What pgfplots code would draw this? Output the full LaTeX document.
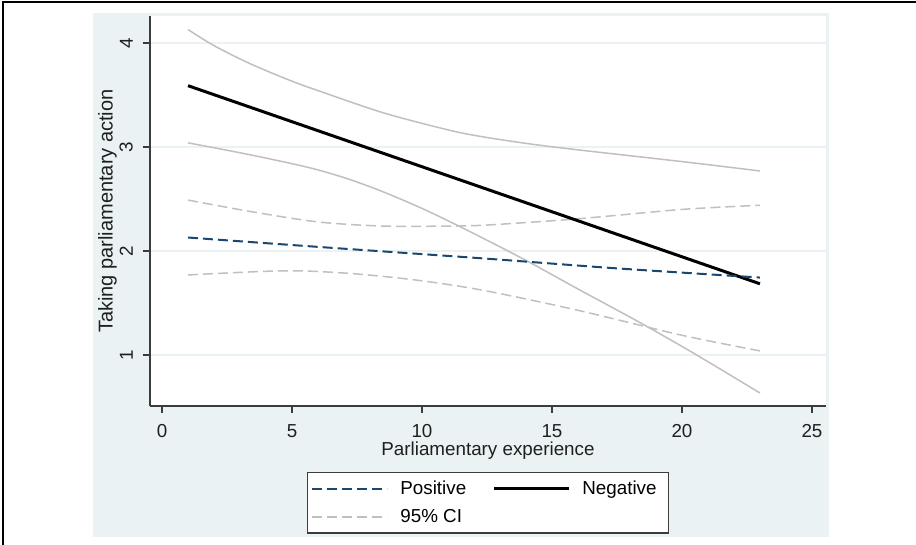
\documentclass[border=0pt]{standalone}
\usepackage{pgfplots}
\pgfplotsset{compat=1.18}
\usepackage{fontspec}
\setmainfont{Liberation Sans}
\definecolor{bgc}{RGB}{234,242,243}
\definecolor{navyc}{RGB}{26,71,111}
\definecolor{cigray}{RGB}{192,192,192}
\definecolor{axgray}{RGB}{60,60,60}
\newcommand{\ff}{\fontsize{18.8}{22}\selectfont}
\begin{document}
\ff
\begin{tikzpicture}[x=1pt,y=1pt]
\path[use as bounding box] (0,0) rectangle (916,545);
\fill[bgc] (93,8) rectangle (829,532);
\draw[black,line width=2pt] (3,0) -- (3,543) -- (916,543);
\begin{axis}[
  at={(150pt,139pt)}, anchor=south west,
  scale only axis, width=676pt, height=390pt,
  xmin=-0.4615, xmax=25.54, ymin=0.51, ymax=4.26,
  axis background/.style={fill=white},
  axis x line*=bottom, axis y line*=left,
  axis line style={-, axgray, line width=1.3pt},
  xtick={0,5,10,15,20,25}, ytick={1,2,3,4},
  tick align=outside, major tick length=7pt,
  tick style={axgray, line width=1.3pt},
  ymajorgrids, grid style={bgc, line width=1.2pt},
  /pgf/number format/assume math mode=true,
  ticklabel style={font=\ff, color=black!88, inner sep=0pt},
  yticklabel style={xshift=-10pt, rotate=90, anchor=south},
  xticklabel style={anchor=north, yshift=-11pt},
  xlabel={Parliamentary experience}, ylabel={Taking parliamentary action},
  label style={color=black!88, inner sep=0pt},
  xlabel style={font=\ff, at={(axis description cs:0.5,-0.0923)}, anchor=north},
  ylabel style={font=\fontsize{20}{24}\selectfont, at={(axis description cs:-0.0769,0.5)}, anchor=north},
  legend columns=2,
  legend style={at={(0.5,-0.169)}, anchor=north, draw=axgray, line width=1.3pt, fill=white,
    font=\ff, inner xsep=4pt, inner ysep=6pt, row sep=8pt, cells={anchor=west},
    /tikz/every even column/.append style={column sep=10pt}},
  legend image code/.code={\draw[#1] (0pt,0pt) -- (75pt,0pt);},
]
% Negative 95% CI (solid gray)
\addplot[cigray, line width=1.5pt, smooth, tension=0.5, forget plot] coordinates {
 (1,4.13) (2,3.975) (3.4,3.80) (5,3.633) (6,3.543) (8.5,3.33) (11,3.165) (12.3,3.10)
 (14.15,3.03) (16.1,2.97) (20,2.86) (23,2.77)};
\addplot[cigray, line width=1.5pt, smooth, tension=0.5, forget plot] coordinates {
 (1,3.04) (2,2.993) (3.4,2.925) (5,2.84) (6,2.78) (7.2,2.69) (8.5,2.57) (10,2.41)
 (11.5,2.23) (13,2.04) (14.15,1.89) (16,1.635) (18.4,1.31) (20.5,1.01) (23,0.635)};
% Positive 95% CI (dashed gray)
\addplot[cigray, line width=1.5pt, dash pattern=on 10pt off 5pt, smooth, tension=0.5, forget plot] coordinates {
 (1,2.49) (3.4,2.38) (6,2.28) (8.5,2.24) (11,2.24) (12.5,2.25) (16,2.31) (20,2.40) (23,2.44)};
\addplot[cigray, line width=1.5pt, dash pattern=on 10pt off 5pt, smooth, tension=0.5, forget plot] coordinates {
 (1,1.77) (4.7,1.81) (7.2,1.785) (9.8,1.72) (12.4,1.62) (16,1.43) (20,1.19) (23,1.04)};
% Negative
\addplot[black, line width=3pt, forget plot] coordinates {(1,3.59) (23,1.685)};
% Positive
\addplot[navyc, line width=2pt, dash pattern=on 10pt off 5pt, smooth, tension=0.5, forget plot] coordinates {
 (1,2.13) (6,2.04) (12.3,1.93) (17.4,1.835) (23,1.745)};
\addlegendimage{navyc, line width=2pt, dash pattern=on 10pt off 5pt}
\addlegendentry{\hspace*{10pt}\makebox[80pt][l]{Positive}}
\addlegendimage{black, line width=3pt}
\addlegendentry{\hspace*{10pt}Negative\hspace*{6pt}}
\addlegendimage{cigray, line width=1.5pt, dash pattern=on 10pt off 5pt}
\addlegendentry{\hspace*{10pt}95\% CI}
\end{axis}
\end{tikzpicture}
\end{document}
